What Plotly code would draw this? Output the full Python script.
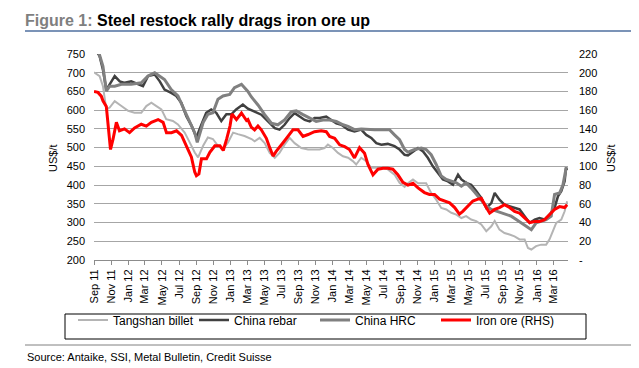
import plotly.graph_objects as go

# ---------------- data ----------------
billet_dates = ["2011-09-01","2011-09-21","2011-10-03","2011-10-15","2011-10-27","2011-11-14","2011-12-08",
"2012-01-01","2012-01-24","2012-02-17","2012-03-06","2012-03-24","2012-04-11","2012-04-29","2012-05-16","2012-06-09",
"2012-06-27","2012-07-21","2012-08-08","2012-08-26","2012-09-07","2012-09-25","2012-10-12","2012-10-30","2012-11-17",
"2012-12-05","2012-12-23","2013-01-10","2013-01-27","2013-02-20","2013-03-17","2013-03-28","2013-04-15","2013-05-03",
"2013-05-21","2013-06-08","2013-06-25","2013-07-13","2013-07-31","2013-08-18","2013-09-11","2013-10-05","2013-10-28",
"2013-11-15","2013-12-03","2013-12-15","2014-01-02","2014-01-20","2014-02-07","2014-02-25","2014-03-14","2014-03-26",
"2014-04-13","2014-05-01","2014-05-19","2014-06-06","2014-06-24","2014-07-17","2014-08-10","2014-08-28","2014-09-15",
"2014-09-27","2014-10-15","2014-11-02","2014-11-20","2014-12-01","2014-12-19","2015-01-06","2015-01-24","2015-02-11",
"2015-03-01","2015-03-19","2015-04-06","2015-04-23","2015-05-11","2015-05-29","2015-06-16","2015-07-04","2015-07-22",
"2015-08-03","2015-08-20","2015-09-07","2015-09-25","2015-10-13","2015-10-31","2015-11-18","2015-11-30","2015-12-12",
"2015-12-29","2016-01-16","2016-02-03","2016-02-15","2016-02-27","2016-03-10","2016-03-28","2016-04-09","2016-04-18"]
billet_values = [701,691,664,602,607,624,611,
598,593,593,611,620,611,602,576,571,
562,540,514,487,474,505,527,523,505,
496,514,540,536,531,523,517,526,512,
486,473,486,508,526,512,499,495,495,
495,499,508,499,486,477,473,464,455,
473,464,446,446,446,442,428,406,395,
405,415,405,406,405,379,361,339,335,
326,321,312,317,308,304,295,277,290,
304,281,272,268,263,255,255,232,228,
237,241,241,255,277,299,308,330,357]

rebar_dates = ["2011-09-01","2011-09-21","2011-10-03","2011-10-15","2011-10-27","2011-11-14","2011-12-02","2011-12-20",
"2012-01-12","2012-02-05","2012-02-23","2012-03-12","2012-04-05","2012-04-23","2012-05-10","2012-06-03","2012-06-21",
"2012-07-09","2012-07-27","2012-08-15","2012-09-01","2012-09-19","2012-10-06","2012-10-24","2012-11-11","2012-11-29",
"2012-12-17","2013-01-04","2013-01-21","2013-02-14","2013-03-04","2013-03-28","2013-04-21","2013-05-15","2013-06-08",
"2013-06-25","2013-07-13","2013-07-31","2013-08-18","2013-09-05","2013-09-23","2013-10-11","2013-10-28","2013-11-15",
"2013-12-09","2013-12-27","2014-01-14","2014-02-01","2014-02-25","2014-03-20","2014-04-13","2014-05-01","2014-05-19",
"2014-06-06","2014-06-24","2014-07-17","2014-08-10","2014-08-28","2014-09-15","2014-09-27","2014-10-15","2014-11-02",
"2014-11-20","2014-12-07","2014-12-25","2015-01-12","2015-01-30","2015-02-17","2015-03-07","2015-03-25","2015-04-06",
"2015-04-23","2015-05-11","2015-05-29","2015-06-16","2015-07-04","2015-07-22","2015-08-03","2015-08-20","2015-09-07",
"2015-09-25","2015-10-13","2015-10-31","2015-11-18","2015-12-06","2015-12-24","2016-01-10","2016-01-28","2016-02-15",
"2016-03-04","2016-03-16","2016-03-28","2016-04-09","2016-04-14","2016-04-18"]
rebar_values = [770,744,708,655,669,691,677,673,
677,669,664,691,695,677,655,646,638,
620,584,558,527,562,593,602,593,571,
589,589,602,615,604,596,588,570,552,
548,561,579,592,583,574,570,579,579,
583,574,565,561,548,543,548,534,526,
512,508,510,504,495,481,479,490,499,
490,473,450,433,415,410,401,428,415,
406,401,384,366,339,352,379,361,348,
344,339,335,317,299,308,312,308,321,
339,370,384,410,446,440]

hrc_dates = ["2011-09-01","2011-09-15","2011-10-03","2011-10-15","2011-10-27","2011-11-14","2011-12-08",
"2012-01-12","2012-02-17","2012-03-12","2012-04-05","2012-04-23","2012-05-10","2012-06-03","2012-06-27","2012-07-21",
"2012-08-08","2012-08-26","2012-09-04","2012-09-25","2012-10-12","2012-10-30","2012-11-17","2012-12-05","2012-12-29",
"2013-01-15","2013-02-09","2013-02-27","2013-03-04","2013-03-16","2013-04-09","2013-05-03","2013-05-27","2013-06-19",
"2013-07-13","2013-08-06","2013-08-24","2013-09-17","2013-10-11","2013-11-03","2013-11-27","2013-12-21","2014-01-14",
"2014-02-07","2014-02-25","2014-03-20","2014-04-13","2014-05-07","2014-05-31","2014-06-24","2014-07-23","2014-08-10",
"2014-08-28","2014-09-15","2014-09-27","2014-10-21","2014-11-14","2014-12-01","2014-12-19","2015-01-06","2015-01-24",
"2015-02-11","2015-03-01","2015-03-19","2015-04-06","2015-04-23","2015-05-11","2015-05-29","2015-06-16","2015-07-04",
"2015-07-22","2015-08-09","2015-08-26","2015-09-13","2015-10-01","2015-10-19","2015-11-06","2015-11-24","2015-12-12",
"2015-12-29","2016-01-16","2016-02-03","2016-02-21","2016-03-04","2016-03-22","2016-04-03","2016-04-15"]
hrc_values = [790,762,717,651,664,664,669,
669,673,691,700,691,682,655,638,598,
567,540,514,567,589,593,629,638,642,
660,669,655,650,636,614,588,565,561,
574,596,598,588,579,570,574,574,570,
561,557,548,550,548,548,548,548,534,
521,495,488,495,499,495,481,455,424,
415,410,406,397,406,392,375,361,344,
335,330,326,321,317,308,299,290,281,
299,304,308,317,375,379,401,448]

ore_dates = ["2011-09-01","2011-09-15","2011-09-27","2011-10-03","2011-10-15","2011-10-23","2011-10-30","2011-11-08",
"2011-11-20","2011-12-01","2011-12-19","2012-01-06","2012-01-24","2012-02-17","2012-03-06","2012-03-24","2012-04-17",
"2012-05-05","2012-05-17","2012-06-04","2012-06-22","2012-07-10","2012-07-22","2012-08-02","2012-08-14","2012-08-26",
"2012-09-01","2012-09-10","2012-09-19","2012-10-07","2012-10-19","2012-11-06","2012-11-24","2012-12-06","2012-12-18",
"2012-12-30","2013-01-06","2013-01-22","2013-02-09","2013-02-27","2013-03-04","2013-03-16","2013-03-28","2013-04-09",
"2013-04-21","2013-05-09","2013-05-21","2013-06-02","2013-06-13","2013-06-25","2013-07-07","2013-07-25","2013-08-12",
"2013-08-30","2013-09-17","2013-10-05","2013-10-28","2013-11-21","2013-12-09","2013-12-21","2014-01-08","2014-01-26",
"2014-02-13","2014-03-02","2014-03-20","2014-04-07","2014-04-25","2014-05-07","2014-05-25","2014-06-12","2014-06-30",
"2014-07-17","2014-08-04","2014-08-22","2014-09-09","2014-09-27","2014-10-15","2014-11-02","2014-11-25","2014-12-13",
"2014-12-31","2015-01-18","2015-02-05","2015-02-23","2015-03-13","2015-03-30","2015-04-11","2015-04-29","2015-05-17",
"2015-06-04","2015-06-16","2015-07-04","2015-07-16","2015-08-03","2015-08-20","2015-09-07","2015-09-25","2015-10-13",
"2015-10-31","2015-11-18","2015-12-06","2015-12-24","2016-01-10","2016-01-28","2016-02-15","2016-03-04","2016-03-22",
"2016-04-09","2016-04-18"]
ore_values = [180,179,175,170,164,140,118,129,
147,138,140,136,141,145,143,147,150,
147,136,136,138,133,126,118,110,94,
90,92,108,108,115,122,122,117,129,
143,156,150,157,149,150,142,139,143,
139,130,120,111,116,120,125,132,139,
139,132,134,137,138,137,132,130,123,
121,118,109,120,114,102,91,97,98,
98,97,91,83,80,82,77,72,70,
70,65,63,61,56,49,52,57,63,
65,66,56,50,54,56,59,56,52,
50,45,40,41,41,43,49,54,57,
56,59]

left_ticks = [200, 250, 300, 350, 400, 450, 500, 550, 600, 650, 700, 750]
right_tickvals = [0, 20, 40, 60, 80, 100, 120, 140, 160, 180, 200, 220]
right_ticktext = ["-", "20", "40", "60", "80", "100", "120", "140", "160", "180", "200", "220"]

FONT = "Arial, 'Liberation Sans', sans-serif"

fig = go.Figure()
fig.add_trace(go.Scatter(x=billet_dates, y=billet_values, name="Tangshan billet", mode="lines",
                         line=dict(color="#b4b4b4", width=2)))
fig.add_trace(go.Scatter(x=rebar_dates, y=rebar_values, name="China rebar", mode="lines",
                         line=dict(color="#404040", width=2.5)))
fig.add_trace(go.Scatter(x=hrc_dates, y=hrc_values, name="China HRC", mode="lines",
                         line=dict(color="#808080", width=3)))
fig.add_trace(go.Scatter(x=ore_dates, y=ore_values, name="Iron ore (RHS)", mode="lines",
                         line=dict(color="#ff0000", width=3), yaxis="y2"))

W, H = 639, 368
L, R, T, B = 86, 560, 46, 252
pw, ph = R - L, B - T
def px(x):
    return (x - L) / pw
def py(y):
    return (B - y) / ph

fig.update_layout(
    width=W, height=H,
    margin=dict(l=L, r=W - R, t=T, b=H - B, autoexpand=False),
    paper_bgcolor="white", plot_bgcolor="white",
    font=dict(family=FONT, size=11, color="#000"),
    showlegend=True,
    title=dict(text="<span style='color:#7f7f7f'>Figure 1: </span>Steel restock rally drags iron ore up",
               x=17 / W, xanchor="left", xref="container",
               y=1 - 12 / H, yanchor="middle", yref="container",
               font=dict(family=FONT, size=16, color="#000", weight="bold")),
    xaxis=dict(type="date", range=["2011-09-01", "2016-04-21"], tickformat="%b %y",
               dtick="M2", tick0="2011-09-01", tickangle=-90, showgrid=False,
               showline=True, linecolor="#8c8c8c", linewidth=1,
               ticks="outside", ticklen=4, tickcolor="#8c8c8c",
               tickfont=dict(size=11), zeroline=False),
    yaxis=dict(range=[200, 750], tickvals=left_ticks, showgrid=True, gridcolor="#a6a6a6",
               gridwidth=1, zeroline=False, showline=False, ticks="", ticklabelstandoff=8,
               tickfont=dict(size=11)),
    yaxis2=dict(range=[0, 220], overlaying="y", side="right", tickvals=right_tickvals,
                ticktext=right_ticktext, showgrid=False, zeroline=False, showline=False,
                ticks="", ticklabelstandoff=10, tickfont=dict(size=11)),
    legend=dict(orientation="h", xref="paper", yref="paper",
                x=px(65), xanchor="left", y=py(312), yanchor="middle",
                borderwidth=0, bgcolor="rgba(0,0,0,0)", font=dict(size=12),
                entrywidth=76, entrywidthmode="pixels", itemwidth=30,
                traceorder="normal"),
    shapes=[
        dict(type="line", xref="paper", yref="paper", x0=px(17), x1=px(627), y0=py(23), y1=py(23),
             line=dict(color="#4f6f9f", width=1.5)),
        dict(type="rect", xref="paper", yref="paper", x0=px(57), x1=px(578), y0=py(306), y1=py(331),
             line=dict(color="#000", width=1)),
        dict(type="line", xref="paper", yref="paper", x0=px(17), x1=px(630), y0=py(337), y1=py(337),
             line=dict(color="#808080", width=1)),
    ],
    annotations=[
        dict(text="US$/t", x=px(45), y=py(150), xref="paper", yref="paper", textangle=-90,
             showarrow=False, font=dict(size=11), xanchor="center", yanchor="middle"),
        dict(text="US$/t", x=px(603), y=py(150), xref="paper", yref="paper", textangle=-90,
             showarrow=False, font=dict(size=11), xanchor="center", yanchor="middle"),
        dict(text="Source: Antaike, SSI, Metal Bulletin, Credit Suisse", x=px(17), y=py(349),
             xref="paper", yref="paper", showarrow=False, xanchor="left", yanchor="middle",
             font=dict(size=11)),
    ],
)

fig.write_html("out.html")
